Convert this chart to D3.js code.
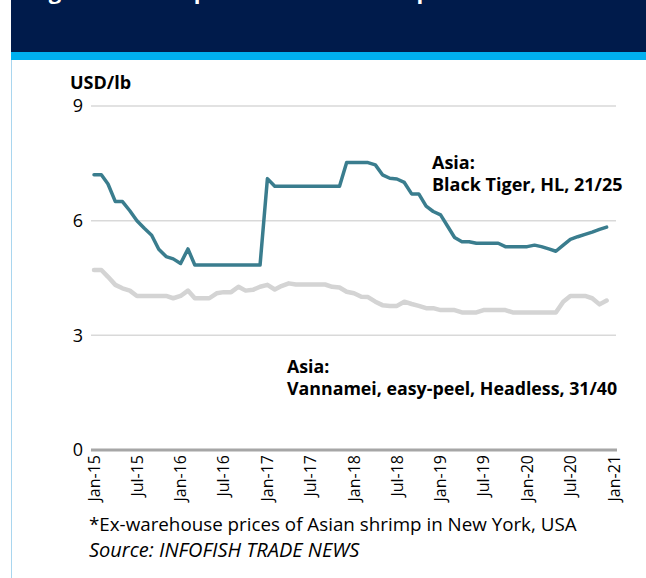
<!DOCTYPE html>
<html><head><meta charset="utf-8">
<script src="https://cdn.jsdelivr.net/npm/d3@7"></script>
<style>
html,body{margin:0;padding:0;background:#fff;}
svg{display:block;}
text{font-family:"Open Sans","Noto Sans",sans-serif;}
</style></head>
<body>
<script>
// ---- data ----
const startMonth = "2015-01";
const blackTiger = [7.2,7.2,6.96,6.5,6.5,6.26,6.0,5.8,5.62,5.25,5.06,5.0,4.88,5.26,4.84,
  4.84,4.84,4.84,4.84,4.84,4.84,4.84,4.84,4.84,
  7.1,
  6.9,6.9,6.9,6.9,6.9,6.9,6.9,6.9,6.9,6.9,
  7.52,7.52,7.52,7.52,7.46,7.2,7.11,7.09,7.0,6.7,6.7,6.38,6.24,6.15,5.84,5.56,5.45,5.45,
  5.41,5.41,5.41,5.41,5.32,5.32,5.32,5.32,5.36,5.32,5.26,5.2,5.36,5.51,5.58,5.64,5.7,5.77,5.83];
const vannamei = [4.71,4.71,4.53,4.32,4.23,4.17,4.03,4.03,4.03,4.03,4.03,3.97,4.03,4.17,3.97,
  3.97,3.97,4.1,4.13,4.13,4.27,4.17,4.19,4.27,4.32,4.2,4.29,4.36,4.33,4.33,4.33,4.33,4.33,
  4.27,4.25,4.14,4.1,4.01,4.0,3.88,3.79,3.77,3.77,3.88,3.82,3.77,3.71,3.71,3.66,3.66,3.66,
  3.6,3.6,3.6,3.66,3.66,3.66,3.66,3.6,3.6,3.6,3.6,3.6,3.6,3.6,3.88,4.03,4.03,4.03,3.97,3.81,3.91];
const tickLabels = ["Jan-15","Jul-15","Jan-16","Jul-16","Jan-17","Jul-17","Jan-18","Jul-18","Jan-19","Jul-19","Jan-20","Jul-20","Jan-21"];
const yTicks = [0,3,6,9];
const yUnit = "USD/lb";
const labelBT = ["Asia:","Black Tiger, HL, 21/25"];
const labelV = ["Asia:","Vannamei, easy-peel, Headless, 31/40"];
const footnote = "*Ex-warehouse prices of Asian shrimp in New York, USA";
const source = "Source: INFOFISH TRADE NEWS";
const title = "Figure 3: Shrimp wholesale market prices in the USA";

// ---- layout ----
const W = 646, H = 578;
const svg = d3.select("body").append("svg").attr("width", W).attr("height", H);

// header
svg.append("rect").attr("x", 11).attr("y", 0).attr("width", W - 11).attr("height", 52).attr("fill", "#001b4b");
svg.append("rect").attr("x", 11).attr("y", 52).attr("width", W - 11).attr("height", 8).attr("fill", "#00b0f0");
svg.append("text").attr("x", 30).attr("y", -1).attr("fill", "#fff")
  .attr("font-size", 22).attr("font-weight", 700).text(title);
svg.append("line").attr("x1", 11.5).attr("x2", 11.5).attr("y1", 60).attr("y2", H)
  .attr("stroke", "#a9d6ef").attr("stroke-width", 1);

const parse = d3.utcParse("%Y-%m");
const t0 = parse(startMonth);
const dates = blackTiger.map((_, i) => d3.utcMonth.offset(t0, i));
const x = d3.scaleUtc().domain([t0, d3.utcMonth.offset(t0, 72)]).range([94, 614]);
const y = d3.scaleLinear().domain([0, 9]).range([450, 106]);

// grid
svg.append("g").selectAll("line").data(yTicks.filter(d => d > 0)).join("line")
  .attr("x1", 91).attr("x2", 616).attr("y1", d => y(d)).attr("y2", d => y(d))
  .attr("stroke", "#d9d9d9").attr("stroke-width", 1.5);
svg.append("line").attr("x1", 91).attr("x2", 617).attr("y1", y(0)).attr("y2", y(0))
  .attr("stroke", "#a6a6a6").attr("stroke-width", 3);

// y labels
svg.append("g").selectAll("text").data(yTicks).join("text")
  .attr("x", 83).attr("y", d => y(d)).attr("dy", "0.35em").attr("text-anchor", "end")
  .attr("font-size", 18).attr("fill", "#000").text(d => d);
svg.append("text").attr("x", 70).attr("y", 89).attr("font-size", 18).attr("font-weight", 700)
  .attr("fill", "#000").text(yUnit);

// x labels
svg.append("g").selectAll("text").data(tickLabels).join("text")
  .attr("transform", (d, i) => `translate(${x(d3.utcMonth.offset(t0, i * 6))},455) rotate(-90)`)
  .attr("dy", "0.35em").attr("text-anchor", "end").attr("font-size", 16).attr("fill", "#000")
  .text(d => d);

// lines
const line = d3.line().x((d, i) => x(dates[i])).y(d => y(d));
svg.append("path").datum(vannamei).attr("d", line).attr("fill", "none")
  .attr("stroke", "#d4d4d4").attr("stroke-width", 4.5).attr("stroke-linejoin", "round").attr("stroke-linecap", "round");
svg.append("path").datum(blackTiger).attr("d", line).attr("fill", "none")
  .attr("stroke", "#3a7d8e").attr("stroke-width", 3.5).attr("stroke-linejoin", "round").attr("stroke-linecap", "round");

// annotations (one text element per line)
function label(lines, x0, y0, lh, fs) {
  lines.forEach((s, i) => svg.append("text").attr("x", x0).attr("y", y0 + i * lh)
    .attr("font-size", fs).attr("font-weight", 700).attr("fill", "#000").text(s));
}
label(labelBT, 432, 169, 22, 18);
label(labelV, 287, 373, 22, 17.8);

// footnotes
svg.append("text").attr("x", 89).attr("y", 531).attr("font-size", 18.8).attr("fill", "#000").text(footnote);
svg.append("text").attr("x", 89).attr("y", 557).attr("font-size", 20).attr("font-style", "italic").attr("fill", "#000").text(source);
</script>
</body></html>
